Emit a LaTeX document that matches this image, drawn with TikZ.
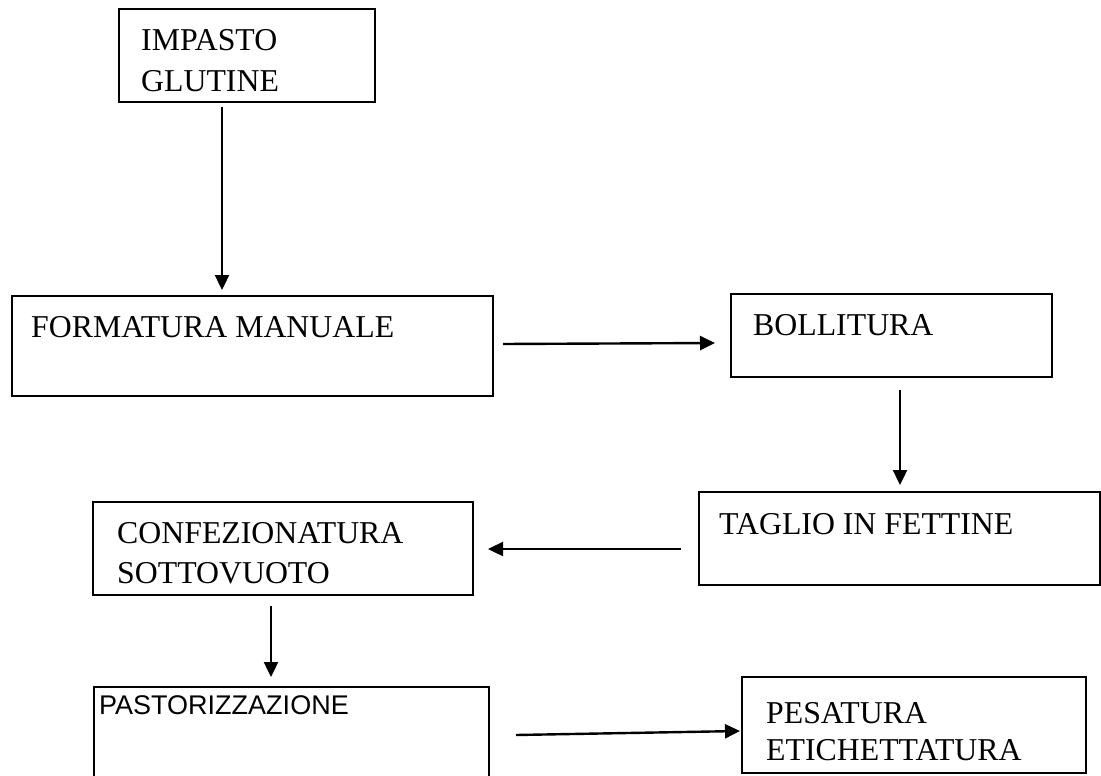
\documentclass[tikz,border=0pt]{standalone}
\usepackage{fontspec}
\setmainfont{Liberation Serif}
\newfontfamily\arialfont{Liberation Sans}
\usetikzlibrary{arrows.meta}
\begin{document}
\begin{tikzpicture}[x=1pt,y=-1pt,
  box/.style={draw, line width=1.6pt, inner sep=0pt, anchor=north west},
  txt/.style={anchor=base west, inner sep=0pt, align=left, font=\fontsize{31.8}{41}\selectfont},
  sanstxt/.style={anchor=base west, inner sep=0pt, font=\arialfont\fontsize{27}{32}\selectfont},
  arr/.style={line width=2.4pt, -{Triangle[length=15pt,width=14pt]}}]
\useasboundingbox (0,0) rectangle (1101,776);
% boxes
\node[box, minimum width=256pt, minimum height=93pt] (b1) at (118,8) {};
\node[box, minimum width=481pt, minimum height=100pt] (b2) at (11,295) {};
\node[box, minimum width=321pt, minimum height=83pt] (b3) at (730,293) {};
\node[box, minimum width=401pt, minimum height=93pt] (b4) at (698,491) {};
\node[box, minimum width=380pt, minimum height=93pt] (b5) at (92,501) {};
\node[box, minimum width=395pt, minimum height=110pt] (b6) at (93,686) {};
\node[box, minimum width=344pt, minimum height=96pt] (b7) at (741,676) {};
% texts
\node[txt] (t1a) at (141,51) {IMPASTO};
\node[txt] (t1b) at (141,92) {GLUTINE};
\node[txt] (t2) at (31,337) {FORMATURA MANUALE};
\node[txt] (t3) at (753,335) {BOLLITURA};
\node[txt] (t4) at (719,534) {TAGLIO IN FETTINE};
\node[txt] (t5a) at (117,543) {CONFEZIONATURA};
\node[txt] (t5b) at (117,583) {SOTTOVUOTO};
\node[sanstxt] (t6) at (99,714) {PASTORIZZAZIONE};
\node[txt] (t7a) at (766,723) {PESATURA};
\node[txt] (t7b) at (766,760) {ETICHETTATURA};
% connector ends
\coordinate (a1s) at (222,107); \coordinate (a1e) at (222,290);
\coordinate (a2s) at (503,344); \coordinate (a2e) at (715,343);
\coordinate (a3s) at (900,390); \coordinate (a3e) at (900,485);
\coordinate (a4s) at (681,549); \coordinate (a4e) at (488,549);
\coordinate (a5s) at (271,606); \coordinate (a5e) at (271,677);
\coordinate (a6s) at (516,735); \coordinate (a6e) at (740,731);
\draw[arr] (a1s) -- (a1e);
\draw[arr] (a2s) -- (a2e);
\draw[arr] (a3s) -- (a3e);
\draw[arr] (a4s) -- (a4e);
\draw[arr] (a5s) -- (a5e);
\draw[arr] (a6s) -- (a6e);
\end{tikzpicture}
\end{document}
